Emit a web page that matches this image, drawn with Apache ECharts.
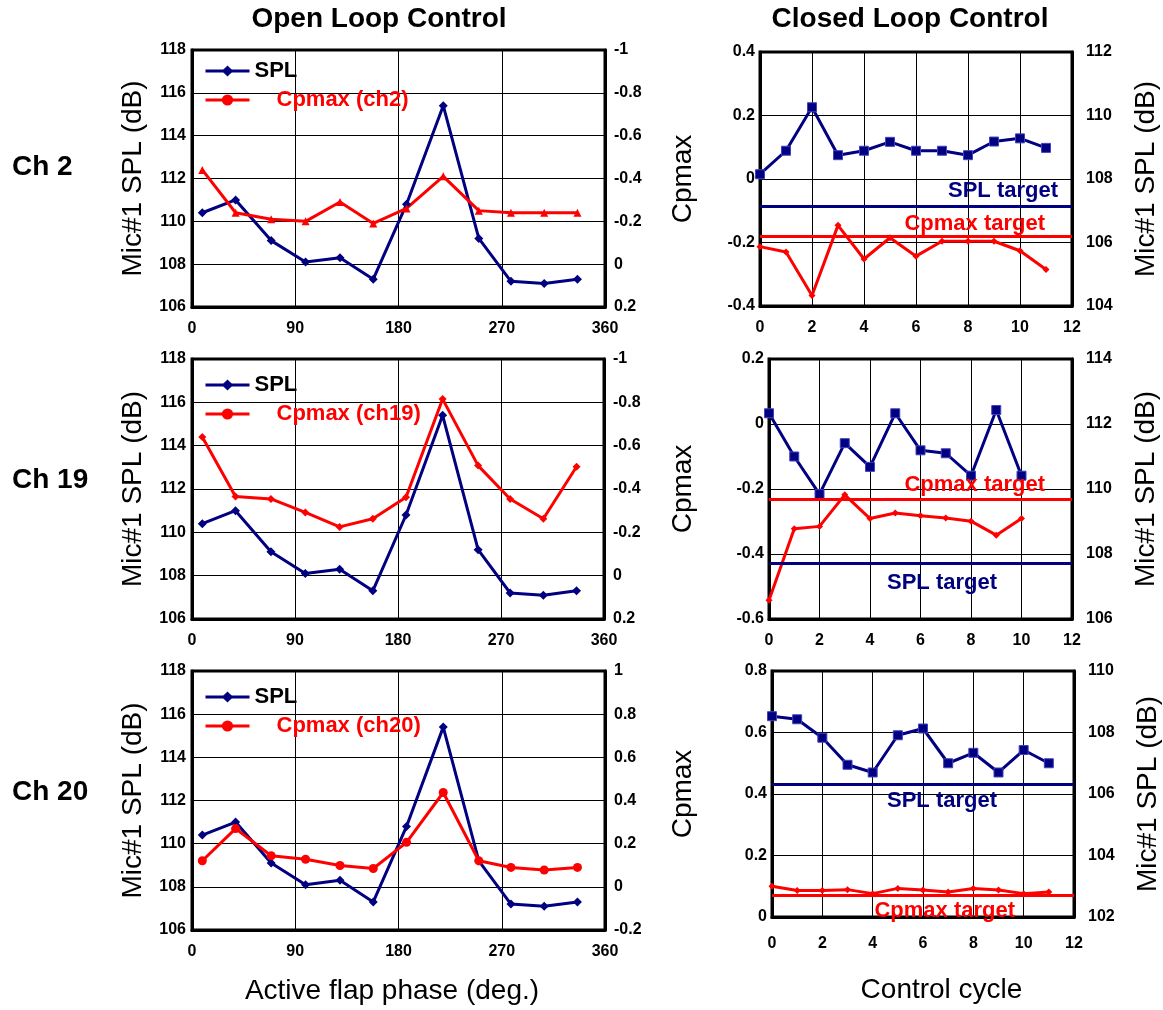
<!DOCTYPE html>
<html>
<head>
<meta charset="utf-8">
<title>Open / Closed Loop Control</title>
<script src="https://cdn.jsdelivr.net/npm/echarts@6/dist/echarts.min.js"></script>
<style>
    html, body { margin: 0; padding: 0; background: #fff; }
    #chart { width: 1163px; height: 1010px; }
</style>
</head>
<body>
<div id="chart"></div>
<script>
// ---- data ----
// open loop: active flap phase (deg.)
var phase = [9, 38, 69, 99, 129, 158, 187, 219, 250, 278, 307, 336];
// Mic#1 SPL (dB), same for all three rows
var openSpl = [110.4, 111.0, 109.1, 108.1, 108.3, 107.3, 110.8, 115.4, 109.2, 107.2, 107.1, 107.3];
var openCp2 = [-0.44, -0.24, -0.21, -0.20, -0.29, -0.19, -0.26, -0.41, -0.25, -0.24, -0.24, -0.24];
var openCp19 = [-0.64, -0.365, -0.354, -0.292, -0.225, -0.263, -0.362, -0.815, -0.508, -0.354, -0.263, -0.503];
var openCp20 = [0.121, 0.27, 0.144, 0.128, 0.099, 0.085, 0.206, 0.437, 0.121, 0.09, 0.078, 0.09];

// closed loop: control cycle
var cycles2 = [0, 1, 2, 3, 4, 5, 6, 7, 8, 9, 10, 11];
var closedSpl2 = [108.15, 108.89, 110.26, 108.75, 108.89, 109.17, 108.89, 108.89, 108.75, 109.18, 109.28, 108.98];
var closedCp2 = [-0.213, -0.230, -0.367, -0.146, -0.252, -0.185, -0.243, -0.196, -0.196, -0.196, -0.226, -0.285];
var cycles19 = [0, 1, 2, 3, 4, 5, 6, 7, 8, 9, 10];
var closedSpl19 = [112.33, 111.0, 109.84, 111.41, 110.68, 112.33, 111.19, 111.1, 110.41, 112.43, 110.41];
var closedCp19 = [-0.542, -0.322, -0.315, -0.218, -0.291, -0.274, -0.282, -0.289, -0.299, -0.342, -0.291];
var cycles20 = [0, 1, 2, 3, 4, 5, 6, 7, 8, 9, 10, 11];
var closedSpl20 = [108.53, 108.43, 107.83, 106.95, 106.7, 107.91, 108.13, 107.0, 107.34, 106.7, 107.43, 107.0];
var closedCp20 = [0.10, 0.086, 0.086, 0.089, 0.076, 0.093, 0.088, 0.081, 0.093, 0.088, 0.076, 0.081];

// targets [SPL target dB, Cpmax target]
var target2 = [107.13, -0.183];
var target19 = [107.7, -0.232];
var target20 = [106.32, 0.071];

// axis ranges
var sideCpRange = [[-1, 0.2, true], [-1, 0.2, true], [-0.2, 1, false]];   // open loop right axis
var cpRange = [[-0.4, 0.4], [-0.6, 0.2], [0, 0.8]];                       // closed loop left axis
var splRange = [[104, 112], [106, 114], [102, 110]];                      // closed loop right axis
var rowNames = ['Ch 2', 'Ch 19', 'Ch 20'];
var cpNames = ['Cpmax (ch2)', 'Cpmax (ch19)', 'Cpmax (ch20)'];
var cpSymbols = ['triangle', 'diamond', 'circle'];

var FONT = '"Liberation Sans", Arial, Helvetica, sans-serif';
var NAVY = '#000080';
var RED = '#ff0000';

function zip(xs, ys, sym) {
    return xs.map(function (x, i) {
        var item = { value: [x, ys[i]] };
        if (sym) item.symbol = sym;
        return item;
    });
}

var chart = echarts.init(document.getElementById('chart'), null, { renderer: 'canvas' });

var grids = [
    { left: 192, top: 50, width: 413, height: 257 },
    { left: 760, top: 52, width: 312, height: 254 },
    { left: 192, top: 359, width: 412, height: 260 },
    { left: 769, top: 359, width: 303, height: 260 },
    { left: 192, top: 671, width: 413, height: 259 },
    { left: 772, top: 671, width: 302, height: 246 }
];
grids.forEach(function (g) {
    g.show = true;
    g.borderColor = '#000';
    g.borderWidth = 3;
    g.containLabel = false;
});

var labelStyle = { color: '#000', fontWeight: 'bold', fontSize: 16, fontFamily: FONT };
var frameLine = { show: true, onZero: false, lineStyle: { color: '#000', width: 3 } };
var gridLine = { show: true, lineStyle: { color: '#000', width: 1 } };
var nameStyle = { color: '#000', fontSize: 28, fontFamily: FONT };

var xAxes = [], yAxes = [], series = [], legends = [];

for (var r = 0; r < 3; r++) {
    var gl = 2 * r, gr = 2 * r + 1;
    var xl = {
        gridIndex: gl, type: 'value', min: 0, max: 360, interval: 90,
        axisLine: frameLine, axisTick: { show: false }, splitLine: gridLine,
        axisLabel: Object.assign({ margin: 14 }, labelStyle)
    };
    var xr = {
        gridIndex: gr, type: 'value', min: 0, max: 12, interval: 2,
        axisLine: frameLine, axisTick: { show: false }, splitLine: gridLine,
        axisLabel: Object.assign({ margin: r === 2 ? 19 : 14 }, labelStyle)
    };
    if (r === 2) {
        xl.name = 'Active flap phase (deg.)';
        xl.nameLocation = 'middle';
        xl.nameGap = 47;
        xl.nameTextStyle = Object.assign({ padding: [0, 13, 0, 0] }, nameStyle);
        xr.name = 'Control cycle';
        xr.nameLocation = 'middle';
        xr.nameGap = 59;
        xr.nameTextStyle = Object.assign({ padding: [0, 0, 0, 37] }, nameStyle);
    }
    xAxes.push(xl, xr);

    // open loop: SPL left, Cpmax right
    yAxes.push({
        gridIndex: gl, type: 'value', position: 'left', min: 106, max: 118, interval: 2,
        name: 'Mic#1 SPL (dB)', nameLocation: 'middle', nameGap: 45, nameTextStyle: nameStyle,
        axisLine: frameLine, axisTick: { show: false }, splitLine: gridLine,
        axisLabel: Object.assign({ margin: 6 }, labelStyle)
    });
    yAxes.push({
        gridIndex: gl, type: 'value', position: 'right',
        min: sideCpRange[r][0], max: sideCpRange[r][1], interval: 0.2, inverse: sideCpRange[r][2],
        axisLine: frameLine, axisTick: { show: false }, splitLine: { show: false },
        axisLabel: Object.assign({ margin: 9 }, labelStyle)
    });
    // closed loop: Cpmax left, SPL right
    yAxes.push({
        gridIndex: gr, type: 'value', position: 'left',
        min: cpRange[r][0], max: cpRange[r][1], interval: 0.2,
        name: 'Cpmax', nameLocation: 'middle', nameGap: grids[gr].left - 697, nameTextStyle: nameStyle,
        axisLine: frameLine, axisTick: { show: false }, splitLine: gridLine,
        axisLabel: Object.assign({ margin: 5 }, labelStyle)
    });
    yAxes.push({
        gridIndex: gr, type: 'value', position: 'right',
        min: splRange[r][0], max: splRange[r][1], interval: 2,
        name: 'Mic#1 SPL (dB)', nameLocation: 'middle', nameGap: 60, nameTextStyle: nameStyle,
        axisLine: frameLine, axisTick: { show: false }, splitLine: { show: false },
        axisLabel: Object.assign({ margin: 14 }, labelStyle)
    });
}

var openCp = [openCp2, openCp19, openCp20];
var cyc = [cycles2, cycles19, cycles20];
var cSpl = [closedSpl2, closedSpl19, closedSpl20];
var cCp = [closedCp2, closedCp19, closedCp20];
var targets = [target2, target19, target20];
var legendTops = [55, 369, 681];

// target label placement: [SPL pos, SPL distance, Cpmax pos, Cpmax distance]
var targetLabels = [
    ['insideEndTop', [14, 5], 'insideEndTop', [27, 1]],
    ['insideEndBottom', [75, 8], 'insideEndTop', [27, 3]],
    ['insideEndBottom', [77, 6], 'insideEndBottom', [59, 4]]
];

function targetLine(value, color, text, pos, dist) {
    return {
        silent: true,
        symbol: ['none', 'none'],
        lineStyle: { color: color, width: 3, type: 'solid' },
        label: {
            show: true, position: pos, distance: dist, formatter: text,
            color: color, fontWeight: 'bold', fontSize: 22, fontFamily: FONT
        },
        data: [{ yAxis: value }]
    };
}

for (var k = 0; k < 3; k++) {
    var gl2 = 2 * k, gr2 = 2 * k + 1;
    series.push({
        name: 'SPL', type: 'line', xAxisIndex: gl2, yAxisIndex: 4 * k,
        data: zip(phase, openSpl), symbol: 'diamond', symbolSize: 9,
        itemStyle: { color: NAVY }, lineStyle: { color: NAVY, width: 3 }
    });
    series.push({
        name: cpNames[k], type: 'line', xAxisIndex: gl2, yAxisIndex: 4 * k + 1,
        data: zip(phase, openCp[k], cpSymbols[k]), symbol: 'circle',
        symbolSize: cpSymbols[k] === 'circle' ? 9 : 8,
        itemStyle: { color: RED }, lineStyle: { color: RED, width: 3 }
    });
    series.push({
        name: 'SPL closed ' + rowNames[k], type: 'line', xAxisIndex: gr2, yAxisIndex: 4 * k + 3,
        data: zip(cyc[k], cSpl[k]), symbol: 'rect', symbolSize: 9,
        itemStyle: { color: NAVY, borderColor: '#4040c0', borderWidth: 1 },
        lineStyle: { color: NAVY, width: 3 },
        markLine: targetLine(targets[k][0], NAVY, 'SPL target', targetLabels[k][0], targetLabels[k][1])
    });
    series.push({
        name: 'Cpmax closed ' + rowNames[k], type: 'line', xAxisIndex: gr2, yAxisIndex: 4 * k + 2,
        data: zip(cyc[k], cCp[k]), symbol: 'diamond', symbolSize: 7,
        itemStyle: { color: RED }, lineStyle: { color: RED, width: 3 },
        markLine: targetLine(targets[k][1], RED, 'Cpmax target', targetLabels[k][2], targetLabels[k][3])
    });
    legends.push({
        left: 199, top: legendTops[k], orient: 'vertical',
        itemWidth: 44, itemHeight: 14, itemGap: 7, selectedMode: false,
        lineStyle: { width: 3 },
        textStyle: { fontWeight: 'bold', fontSize: 22, fontFamily: FONT, color: '#000' },
        data: [
            { name: 'SPL', textStyle: { color: '#000' } },
            { name: cpNames[k], textStyle: { color: RED, padding: [0, 0, 0, 22] } }
        ]
    });
}

var graphics = [
    { type: 'text', x: 379, y: 19, style: { text: 'Open Loop Control', font: 'bold 28px ' + FONT, fill: '#000', textAlign: 'center', textVerticalAlign: 'middle' } },
    { type: 'text', x: 910, y: 19, style: { text: 'Closed Loop Control', font: 'bold 28px ' + FONT, fill: '#000', textAlign: 'center', textVerticalAlign: 'middle' } }
];
var rowY = [167, 480, 792];
rowNames.forEach(function (t, i) {
    graphics.push({ type: 'text', x: 12, y: rowY[i], style: { text: t, font: 'bold 28px ' + FONT, fill: '#000', textAlign: 'left', textVerticalAlign: 'middle' } });
});

var option = {
    animation: false,
    backgroundColor: '#fff',
    textStyle: { fontFamily: FONT },
    grid: grids,
    xAxis: xAxes,
    yAxis: yAxes,
    legend: legends,
    series: series,
    graphic: graphics
};
option && chart.setOption(option);
</script>
</body>
</html>
